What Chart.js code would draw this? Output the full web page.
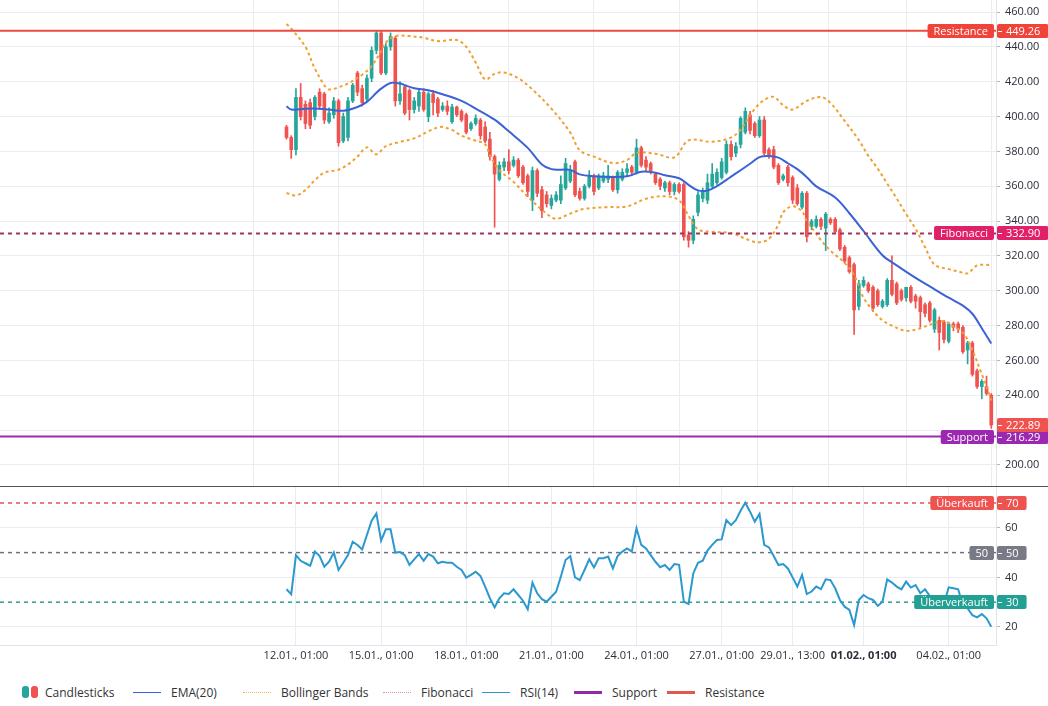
<!DOCTYPE html>
<html>
<head>
<meta charset="utf-8">
<script src="https://cdn.jsdelivr.net/npm/chart.js@4.4.1/dist/chart.umd.min.js"></script>
<style>
  body { margin: 0; background: #fff; }
  #wrap { position: relative; width: 1048px; height: 706px; overflow: hidden; font-family: "Open Sans", sans-serif; }
  #main { position: absolute; left: 0; top: 0; }
  #rsi { position: absolute; left: 0; top: 487px; }
  #sep { position: absolute; left: 0; top: 486px; width: 1048px; height: 1px; background: #555; }
  #legend { position: absolute; left: 0; top: 683px; width: 1048px; height: 18px; font-size: 12px; color: #333; }
  .item { position: absolute; top: 0; height: 18px; display: flex; align-items: center; white-space: nowrap; }
  .ico { width: 28px; margin-right: 10px; }
  .pill { display: inline-block; width: 7px; height: 12px; border-radius: 3px; margin-right: 2px; }
</style>
</head>
<body>
<div id="wrap">
  <canvas id="main" width="1048" height="487"></canvas>
  <div id="sep"></div>
  <canvas id="rsi" width="1048" height="183"></canvas>
  <div id="legend"></div>
</div>
<script>
// 4h candles, index 0 = 11.01. 17:00
const opens = [394,388,381,411,407,408,400,414,413,397, 401,409,386,388,409,425,416,410,422,438,
  448,425,440,445,409,417,415,404,406,414, 400,413,410,404,406,397,405.5,403,401,393,
  396,398,394,387,377,364,371,374,372,375, 371,366,352,369,358,355,349,352,352,359,
  363,374,357,353,360,366,359,363,364,365, 358,364,368,371,368,382,375,373,367,364,
  359,362,357,361,361,332,329,345,353,352, 360,362,365,368,384,379,384,391,401,396,
  389,398,381,381,372,364,371,365,359,348, 356,337,337,341,336,341,341,335,325,319,
  315,291,303,304,302,300,291,292,306,304, 300,296,302,297,296,292,293,278,283,282,
  271,281,281,279,266,270,254,245,245,240];
const highs = [395,389,416,419,409,410,412,416,414,405, 411,410,402,411,419,426,418,424,440,449,
  449,442,448,446,420,418,416,411,416,416, 414,415,411,408,409,407,406,404,402,397,
  401,399,397,391,378,374,376,381,377,376, 372,367,371,370,360,357,355,357,366,376,
  372,375,359,361,369,367,367,368,372,366, 369,370,373,372,387,383,377,374,368,365,
  363,363,362,362,362,334,343,357,359,367, 373,370,376,386,386,385,400,405,403,397,
  400,400,382,383,373,367,372,366,361,357, 357,341,343,342,345,342,342,336,326,320,
  316,306,308,305,303,301,295,307,320,305, 301,302,303,298,297,293,294,290,285,283,
  282,282,282,280,271,271,255,249,251,241];
const lows = [387,376,378,398,393,393,398,404,396,396, 399,383,385,386,408,412,406,409,420,436,
  424,424,438,406,407,401,398,402,403,403, 397,401,400,403,401,396,400,397,390,392,
  395,387,385,375,336.5,363,369,367,371,365, 361,354,346,354,342,348,347,351,350,358,
  362,354,352,352,359,355,358,362,362,357, 356,363,366,366,367,371,369,367,361,358,
  357,355,355,356,329,325,327,343,351,350, 359,361,364,367,375,377,382,390,390,388,
  388,378,376,370,361,363,360,350,349,347, 328,335,336,335,323,338,333,323,316,310,
  275,289,302,299,288,291,290,291,297,292, 294,294,293,290,279,285,282,276,266,270,
  270,277,276,264,258,251,244,238,240,221];
const closes = [388,381,411,400,396,395,411,406,398,402, 409,385,400,409,418,414,408,422,438,448,
  425,440,446,409,413,402,404,409,414,404, 413,408,402,406,403,405.5,401,398,391,396,
  399,389,386,377,367,372,374,369,375,366, 362,357,369,356,346,350,353,355,361,373,
  369,355,353,360,366,357,366,366,366,358, 368,368,370,368,382,372,371,369,362,360,
  362,357,361,357,331,329,341,355,357,362, 367,368,374,384,377,383,399,403,392,389,
  398,379,378,371,362,366,362,352,350,356, 331,340,341,337,344,339,334,324,317,311,
  289,304,306,300,290,292,294,306,298,293, 295,302,294,294,288,287,283,289,276,272,
  281,279,278,265,270,252,245,248,241,222.89];

// EMA(20) at these candle indices
const emaIdx = [0,1,4,6,9,12,15,17,19,20,22,24,25,27,30,33,37,40,44,47,51,54,56,58,60,62,65,68,72,75,78,80,83,85,87,89,91,94,96,98,100,102,104,106,108,110,112,116,119,122,126,129,133,136,140,143,145,147,149];
const emaVal = [405.9,404,404.5,404.6,404,403.3,405.5,408.4,413.6,416,419.3,419,418,416.3,415.1,412.8,409,404.6,398.2,391.5,382,372.5,369.8,369.5,369.4,366.8,365.7,365.3,365.7,368.3,367.8,366.3,364.6,360.8,357.6,357.5,360,365.5,369.2,372.9,376.7,377.3,376.4,373.2,369.8,365.2,359.9,353.5,344.5,334.3,320.4,314.6,307.4,302.5,296,291.5,286.8,278.5,269.7];

// Bollinger Bands
const bbUpIdx = [0,1,4,6,8,9,11,13,16,18,20,21,23,26,29,32,36,38,40,42,44,46,49,52,56,60,62,65,69,72,74,78,82,85,90,94,96,99,101,103,105,107,110,113,115,118,121,123,125,127,129,131,133,135,137,140,142,144,146,149];
const bbUpVal = [453.1,450.5,440,427.5,418,415.5,416.8,419,424,429,437.5,442.5,446.2,446.2,445.2,443.3,443.9,440,431,421.3,424.5,425.3,422,415.5,404.5,390.8,380.6,377,373.3,375,379.1,378.7,376.6,386.3,385.5,388,392.5,404.5,409.5,411.3,406.5,404,409,411.2,407.8,397.5,386.5,377.5,370,361.5,353,344,335.5,325,315,312.4,311.1,310,314.5,314.8];
const bbLoIdx = [0,2,4,6,8,11,13,15,17,19,21,24,27,30,32,33,35,37,39,42,43,45,48,51,55,57,60,63,68,72,76,80,83,85,87,90,94,98,100,102,104,105,107,109,110,111,113,115,118,120,122,124,126,128,131,134,136,139,141,143,145,147,148,149];
const bbLoVal = [356.1,354.7,357.8,363.5,367.8,369.5,372.5,377,382.3,378.3,383,385.4,387.5,391.5,393.8,394,392.3,389,387,384,377.7,369.3,362.5,354,344.2,341.3,344.3,347,348,348.4,352.8,354.2,351.9,343,335.3,333.8,333.1,328.8,327.8,329.8,338,345,348.5,345.5,340,336.4,329,323,316,309,296,288.5,283,280,277,278.5,280.5,282.5,279.5,276,266,252,245,237];

// RSI(14), one value per candle
const rsiVal = [35.2,33.2,49,46.7,45.7,44.7,50.4,48.6,44.3,46.3, 50,43,45.9,49,54.4,53.1,51.3,57.1,62.9,65.8,
  54.8,59.4,59.4,50,50.2,49,45,47.3,49.4,46.7, 49.4,48.4,45.7,46.3,45.9,45.9,44.3,43,39.9,41,
  42.3,40.6,36.3,31.6,27.9,31.6,33.6,33.3,35.2,32.9, 30.6,27.1,37.9,33.6,31.2,30.2,32.2,34.2,40.3,47,
  48.6,40,38.9,43,47.3,44,47.7,47.7,48.4,43.6, 48.6,50.4,51.7,50.4,59.8,53.1,51.7,49,46.3,44.1,
  45,43,45.4,45.1,30.2,29.3,41.6,45.9,46.7,50.8, 53.1,55.1,55.3,63.1,61.1,63.1,66.9,70.1,66.5,62.5,
  65.6,53.1,52.1,48.6,45,45.4,43.6,40,36.3,41, 33.3,34.3,36.3,35.3,39.2,38.9,35.6,30.9,28.2,26.9,
  20.8,30.9,32.9,31.6,30.9,28.5,30.2,39.2,37.9,36.3, 35.2,38.3,35.9,36.9,33.6,35.2,32.5,32.2,29.5,29.5,
  36,35.6,35.2,28.9,27.5,24.8,23.9,25.2,23.5,20.1];

const levelNames = ['Resistance', 'Fibonacci', 'Support'];
const levelValues = [449.26, 332.90, 216.29];
const levelColors = ['#f0433a', '#e0216a', '#9c27b0'];
const levelLineColors = ['#ee4b3f', '#a8305e', '#9c2bb0'];

const rsiLevelNames = ['Überkauft', '50', 'Überverkauft'];
const rsiLevelValues = [70, 50, 30];
const rsiLevelColors = ['#ef5350', '#787b86', '#22a093'];

const timeTickIdx = [2, 20, 38, 56, 74, 92, 107, 122, 140];
const timeTickLabels = ['12.01., 01:00', '15.01., 01:00', '18.01., 01:00', '21.01., 01:00', '24.01., 01:00', '27.01., 01:00', '29.01., 13:00', '01.02., 01:00', '04.02., 01:00'];
const priceTicks = [200, 220, 240, 260, 280, 300, 320, 340, 360, 380, 400, 420, 440, 460];
const rsiTicks = [20, 40, 60];

const legendNames = ['Candlesticks', 'EMA(20)', 'Bollinger Bands', 'Fibonacci', 'RSI(14)', 'Support', 'Resistance'];
const legendIcons = ['', '1px solid #3b5fd6', '1px dotted #f0b35a', '1px dotted #e08aa8', '1px solid #2b98cf', '3px solid #8e2aa8', '3px solid #e0574c'];
const legendTextX = [47, 171, 281, 421, 520, 612, 705];

const X_MIN = -60.57, X_MAX = 150.0;
const UP = '#26a69a', DOWN = '#ef5350';
const GRID = '#e9ecf0';
const TICK_FONT = { family: 'Open Sans', size: 11 };
const BAND = '#f0a030';

// legend
const legend = document.getElementById('legend');
legendNames.forEach((name, k) => {
  const el = document.createElement('div');
  el.className = 'item';
  if (k === 0) {
    el.style.left = '22px';
    el.innerHTML = '<span class="pill" style="background:' + UP + '"></span><span class="pill" style="background:' + DOWN + ';margin-right:' + (legendTextX[0] - 22 - 18) + 'px"></span>' + name;
  } else {
    el.style.left = (legendTextX[k] - 38) + 'px';
    el.innerHTML = '<span class="ico" style="border-top:' + legendIcons[k] + '"></span>' + name;
  }
  legend.appendChild(el);
});

const candleColors = opens.map((o, i) => closes[i] >= o ? UP : DOWN);
const pts = (xs, ys) => xs.map((x, k) => ({ x: x, y: ys[k] }));
const hline = v => [{ x: X_MIN, y: v }, { x: X_MAX, y: v }];
const noPad = s => { s.paddingTop = 0; s.paddingBottom = 0; s.paddingLeft = 0; s.paddingRight = 0; };

function tag(ctx, text, y, color, left, right) {
  ctx.font = '11px "Open Sans"';
  const w = ctx.measureText(text).width;
  let x0, x1;
  if (left == null) { x1 = right; x0 = right - w - 12; } else { x0 = left; x1 = left + w + 17; }
  const yy = Math.round(y);
  ctx.fillStyle = color;
  ctx.beginPath();
  ctx.roundRect(x0, yy - 7, x1 - x0, 14, 2);
  ctx.fill();
  ctx.fillStyle = '#fff';
  ctx.textBaseline = 'middle';
  ctx.textAlign = 'left';
  if (left == null) {
    ctx.fillText(text, x0 + 6, yy + 0.5);
  } else {
    ctx.fillRect(x0 + 1, yy, 4, 1);
    ctx.fillText(text, x0 + 9, yy + 0.5);
  }
}

const mainTags = {
  id: 'mainTags',
  afterDraw(chart) {
    const ctx = chart.ctx, y = chart.scales.y, a = chart.chartArea;
    ctx.save();
    levelNames.forEach((n, k) => {
      const py = y.getPixelForValue(levelValues[k]);
      tag(ctx, n, py, levelColors[k], null, a.right - 2);
      tag(ctx, levelValues[k].toFixed(2), py, levelColors[k], a.right + 1, null);
    });
    const last = closes[closes.length - 1];
    tag(ctx, last.toFixed(2), y.getPixelForValue(last), '#ef5350', a.right + 1, null);
    ctx.restore();
  }
};

const rsiTags = {
  id: 'rsiTags',
  afterDraw(chart) {
    const ctx = chart.ctx, y = chart.scales.y, a = chart.chartArea;
    ctx.save();
    rsiLevelNames.forEach((n, k) => {
      const py = y.getPixelForValue(rsiLevelValues[k]);
      tag(ctx, n, py, rsiLevelColors[k], null, a.right - 2);
      tag(ctx, String(rsiLevelValues[k]), py, rsiLevelColors[k], a.right + 1, null);
    });
    ctx.restore();
  }
};

new Chart(document.getElementById('main'), {
  type: 'bar',
  data: {
    datasets: [
      { type: 'line', data: hline(levelValues[0]), borderColor: levelLineColors[0], borderWidth: 2, pointRadius: 0, order: 1 },
      { type: 'line', data: hline(levelValues[1]), borderColor: levelLineColors[1], borderWidth: 2, borderDash: [4, 4], pointRadius: 0, order: 1 },
      { type: 'line', data: hline(levelValues[2]), borderColor: levelLineColors[2], borderWidth: 2, pointRadius: 0, order: 1 },
      { type: 'line', data: pts(emaIdx, emaVal), borderColor: '#3d62d6', borderWidth: 2, pointRadius: 0, tension: 0.35, order: 2 },
      { type: 'line', data: pts(bbUpIdx, bbUpVal), borderColor: BAND, borderWidth: 2, borderDash: [3, 3], pointRadius: 0, tension: 0.35, order: 3 },
      { type: 'line', data: pts(bbLoIdx, bbLoVal), borderColor: BAND, borderWidth: 2, borderDash: [3, 3], pointRadius: 0, tension: 0.35, order: 3 },
      { data: opens.map((o, i) => ({ x: i, y: [o, closes[i]] })), backgroundColor: candleColors, barThickness: 3, grouped: false, order: 8 },
      { data: opens.map((o, i) => ({ x: i, y: [lows[i], highs[i]] })), backgroundColor: candleColors, barThickness: 1, grouped: false, order: 9 }
    ]
  },
  options: {
    responsive: false,
    animation: false,
    layout: { padding: 0 },
    plugins: { legend: { display: false }, tooltip: { enabled: false } },
    scales: {
      x: {
        type: 'linear', min: X_MIN, max: X_MAX, offset: false,
        afterBuildTicks: s => { s.ticks = timeTickIdx.map(v => ({ value: v })); },
        afterFit: s => { s.height = 0; noPad(s); },
        ticks: { display: false },
        grid: { color: GRID, drawTicks: false },
        border: { display: false }
      },
      y: {
        position: 'right', min: 187.35, max: 466.9,
        afterBuildTicks: s => { s.ticks = priceTicks.map(v => ({ value: v })); },
        afterFit: s => { s.width = 52; noPad(s); },
        ticks: { callback: v => v.toFixed(2), font: TICK_FONT, color: '#2a2e39', padding: 5 },
        grid: { color: GRID, tickLength: 4, tickColor: '#b2b5be' },
        border: { color: '#e0e3eb' }
      }
    }
  },
  plugins: [mainTags]
});

new Chart(document.getElementById('rsi'), {
  type: 'line',
  data: {
    datasets: [
      { data: hline(70), borderColor: '#e05552', borderWidth: 1.5, borderDash: [4, 4], pointRadius: 0, order: 2 },
      { data: hline(50), borderColor: '#6f7280', borderWidth: 1.5, borderDash: [4, 4], pointRadius: 0, order: 2 },
      { data: hline(30), borderColor: '#2a9d90', borderWidth: 1.5, borderDash: [4, 4], pointRadius: 0, order: 2 },
      { data: rsiVal.map((v, i) => ({ x: i, y: v })), borderColor: '#2b98cf', borderWidth: 2, pointRadius: 0, order: 1 }
    ]
  },
  options: {
    responsive: false,
    animation: false,
    layout: { padding: 0 },
    plugins: { legend: { display: false }, tooltip: { enabled: false } },
    scales: {
      x: {
        type: 'linear', min: X_MIN, max: X_MAX, offset: false,
        afterBuildTicks: s => { s.ticks = timeTickIdx.map(v => ({ value: v })); },
        afterFit: s => { s.height = 25; noPad(s); },
        ticks: {
          autoSkip: false, maxRotation: 0, padding: 4, color: '#2a2e39',
          callback: v => timeTickLabels[timeTickIdx.indexOf(v)],
          font: c => ({ family: 'Open Sans', size: 11, weight: c.tick && c.tick.value === 122 ? 'bold' : 'normal' })
        },
        grid: { color: GRID, drawTicks: false },
        border: { color: '#e0e3eb' }
      },
      y: {
        position: 'right', min: 12.74, max: 76.45,
        afterBuildTicks: s => { s.ticks = rsiTicks.map(v => ({ value: v })); },
        afterFit: s => { s.width = 52; noPad(s); },
        ticks: { font: TICK_FONT, color: '#2a2e39', padding: 5 },
        grid: { color: GRID, tickLength: 4, tickColor: '#b2b5be' },
        border: { color: '#e0e3eb' }
      }
    }
  },
  plugins: [rsiTags]
});
</script>
</body>
</html>
